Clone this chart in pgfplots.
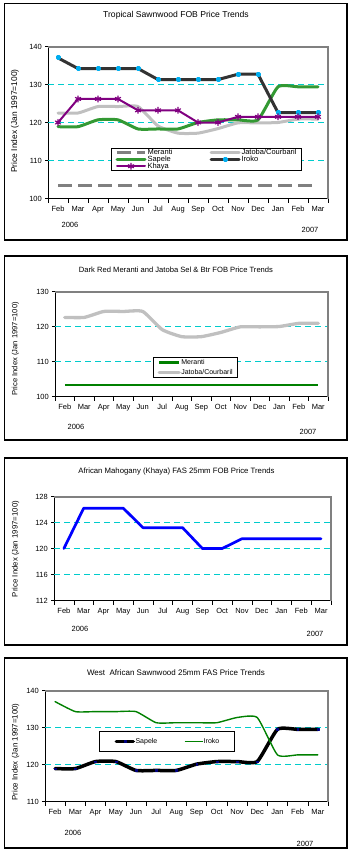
\documentclass[border=0pt]{standalone}
\usepackage{pgfplots}
\pgfplotsset{compat=1.18}
\usepackage{fontspec}
\setmainfont{Liberation Sans}
\definecolor{gridc}{RGB}{0,204,204}
\definecolor{meranti}{RGB}{128,128,128}
\definecolor{jatoba}{RGB}{192,192,192}
\definecolor{sapele}{RGB}{51,153,51}
\definecolor{iroko}{RGB}{51,51,51}
\definecolor{khaya}{RGB}{128,0,128}
\definecolor{dkgreen}{RGB}{0,128,0}
\definecolor{borderg}{RGB}{128,128,128}
\newcommand\fs[1]{\fontsize{#1}{#1}\selectfont}

\pgfplotsset{
  chartbase/.style={
    scale only axis,
    xmin=-0.5, xmax=13.5,
    xtick={0,...,13},
    xticklabels={Feb,Mar,Apr,May,Jun,Jul,Aug,Sep,Oct,Nov,Dec,Jan,Feb,Mar},
    minor xtick={-0.5,0.5,...,13.5},
    tick align=outside,
    axis x line*=bottom, axis y line*=left,
    axis line style={black, line width=0.6pt, -},
    major tick length=3pt, minor tick length=4pt,
    major x tick style={draw=none},
    minor x tick style={black, line width=0.5pt},
    ytick style={black, line width=0.5pt},
    extra y tick style={grid=major, major tick length=0pt, yticklabel={},
      major grid style={draw=gridc, solid, dash pattern=on 6pt off 4pt, line width=1pt}},
    /pgf/number format/assume math mode=true,
    xticklabel style={anchor=base, inner sep=0pt, yshift=-9.7pt},
    yticklabel style={anchor=east, inner sep=0pt, xshift=-3pt},
    tick label style={font=\fs{7.5}},
    clip=false,
    every axis plot/.append style={line join=round, line cap=round},
    legend cell align=left,
  },
}

\begin{document}
\begin{tikzpicture}
\path[use as bounding box] (0,0) rectangle (351pt,-852pt);
% frames
\draw[black, line width=1.6pt] (4.5pt,-3.5pt) rectangle (347pt,-240pt);
\draw[black, line width=1.6pt] (4.5pt,-256pt) rectangle (347pt,-440pt);
\draw[black, line width=1.6pt] (4.5pt,-458pt) rectangle (347pt,-645pt);
\draw[black, line width=1.6pt] (4.5pt,-658pt) rectangle (347pt,-848pt);

% ---------------- Panel 1 ----------------
\node[font=\fs{8.6}] at (176pt,-15pt) {Tropical Sawnwood FOB Price Trends};
\node[font=\fs{8.4}, rotate=90] at (15pt,-121pt) {Price Index (Jan 1997=100)};
\node[font=\fs{7.5}] at (70pt,-225pt) {2006};
\node[font=\fs{7.5}] at (310pt,-230pt) {2007};
\begin{axis}[chartbase, at={(48pt,-198.5pt)}, anchor=south west,
  width=280pt, height=152pt,
  ymin=100, ymax=140, ytick={100,110,...,140}, extra y ticks={110,120,130},
  legend columns=2,
  legend image code/.code={\draw[mark repeat=2,mark phase=2,#1] plot coordinates {(0pt,0pt) (14pt,0pt) (28pt,0pt)};},
  legend style={at={(rel axis cs:0.225,0.333)}, anchor=north west, draw=black, line width=1pt,
    font=\fs{7.5}, inner xsep=4pt, inner ysep=1pt, row sep=0.3pt,
    nodes={inner xsep=1pt, inner ysep=0pt, text height=5.3pt, text depth=1.2pt},
    /tikz/column 2/.style={column sep=36pt}},
]
\draw[borderg, line width=2pt] (rel axis cs:0,1) -- (rel axis cs:1,1) -- (rel axis cs:1,0);
\addplot[meranti, line width=3pt, line cap=butt, dash pattern=on 14pt off 6pt] coordinates {
(0,103.4) (1,103.4) (2,103.4) (3,103.4) (4,103.4) (5,103.4) (6,103.4) (7,103.4) (8,103.4) (9,103.4) (10,103.4) (11,103.4) (12,103.4) (13,103.4)};
\addlegendentry{Meranti}
\addplot[jatoba, line width=3pt, smooth, tension=0.3] coordinates {
(0,122.5) (1,122.5) (2,124.2) (3,124.2) (4,124.2) (5,119.1) (6,117.2) (7,117.2) (8,118.4) (9,119.9) (10,119.9) (11,120.0) (12,120.9) (13,120.9)};
\addlegendentry{Jatoba/Courbaril}
\addplot[sapele, line width=3pt, smooth, tension=0.3] coordinates {
(0,118.9) (1,118.9) (2,120.7) (3,120.7) (4,118.3) (5,118.3) (6,118.3) (7,120.0) (8,120.7) (9,120.7) (10,120.7) (11,129.4) (12,129.4) (13,129.4)};
\addlegendentry{Sapele}
\addplot[iroko, line width=3pt, mark=square*, mark size=1pt, mark options={cyan, draw=cyan}] coordinates {
(0,137.0) (1,134.2) (2,134.2) (3,134.2) (4,134.2) (5,131.3) (6,131.3) (7,131.3) (8,131.3) (9,132.7) (10,132.7) (11,122.6) (12,122.6) (13,122.6)};
\addlegendentry{Iroko}
\addplot[khaya, line width=2pt, mark=asterisk, mark size=3pt, mark options={line width=1.2pt}] coordinates {
(0,120.0) (1,126.2) (2,126.2) (3,126.2) (4,123.2) (5,123.2) (6,123.2) (7,120.0) (8,120.0) (9,121.5) (10,121.5) (11,121.5) (12,121.5) (13,121.5)};
\addlegendentry{Khaya}
\end{axis}

% ---------------- Panel 2 ----------------
\node[font=\fs{7.6}] at (176pt,-270pt) {Dark Red Meranti and Jatoba Sel \& Btr FOB Price Trends};
\node[font=\fs{7.6}, rotate=90] at (15.5pt,-349pt) {Price Index (Jan 1997=100)};
\node[font=\fs{7.5}] at (76pt,-427pt) {2006};
\node[font=\fs{7.5}] at (308pt,-432pt) {2007};
\begin{axis}[chartbase, at={(55pt,-396.5pt)}, anchor=south west,
  width=273pt, height=105pt,
  ymin=100, ymax=130, ytick={100,110,...,130}, extra y ticks={110,120},
  legend image code/.code={\draw[#1] plot coordinates {(0pt,0pt) (10pt,0pt) (20pt,0pt)};},
  legend style={at={(rel axis cs:0.359,0.375)}, anchor=north west, draw=black, line width=1pt,
    font=\fs{7}, inner xsep=4pt, inner ysep=1.5pt, row sep=3.5pt,
    nodes={inner xsep=0.5pt, inner ysep=0pt, text height=5.2pt, text depth=1.3pt}},
]
\draw[borderg, line width=2pt] (rel axis cs:0,1) -- (rel axis cs:1,1) -- (rel axis cs:1,0);
\addplot[dkgreen, line width=2.3pt, line cap=butt] coordinates {
(0,103.3) (1,103.3) (2,103.3) (3,103.3) (4,103.3) (5,103.3) (6,103.3) (7,103.3) (8,103.3) (9,103.3) (10,103.3) (11,103.3) (12,103.3) (13,103.3)};
\addlegendentry{Meranti}
\addplot[jatoba, line width=3.3pt, smooth, tension=0.3] coordinates {
(0,122.6) (1,122.6) (2,124.3) (3,124.3) (4,124.3) (5,119.1) (6,117.1) (7,117.1) (8,118.3) (9,119.9) (10,119.9) (11,120.0) (12,120.9) (13,120.9)};
\addlegendentry{Jatoba/Courbaril}
\end{axis}

% ---------------- Panel 3 ----------------
\node[font=\fs{7.75}] at (176.5pt,-471pt) {African Mahogany (Khaya) FAS 25mm FOB Price Trends};
\node[font=\fs{7.8}, rotate=90] at (15.5pt,-549pt) {Price Index (Jan 1997=100)};
\node[font=\fs{7.5}] at (80pt,-629pt) {2006};
\node[font=\fs{7.5}] at (315pt,-634pt) {2007};
\begin{axis}[chartbase, at={(54pt,-600.5pt)}, anchor=south west,
  width=277pt, height=104pt,
  ymin=112, ymax=128, ytick={112,116,...,128}, extra y ticks={116,120,124},
]
\draw[borderg, line width=2pt] (rel axis cs:0,1) -- (rel axis cs:1,1) -- (rel axis cs:1,0);
\addplot[blue, line width=2.7pt] coordinates {
(0,120.0) (1,126.2) (2,126.2) (3,126.2) (4,123.2) (5,123.2) (6,123.2) (7,120.0) (8,120.0) (9,121.5) (10,121.5) (11,121.5) (12,121.5) (13,121.5)};
\end{axis}

% ---------------- Panel 4 ----------------
\node[font=\fs{8}] at (176pt,-673pt) {West\ \ African Sawnwood 25mm FAS Price Trends};
\node[font=\fs{7.9}, rotate=90] at (15.5pt,-752pt) {Price Index (Jan 1997=100)};
\node[font=\fs{7.5}] at (73pt,-833pt) {2006};
\node[font=\fs{7.5}] at (305pt,-844pt) {2007};
\begin{axis}[chartbase, at={(45pt,-801.5pt)}, anchor=south west,
  width=283pt, height=111pt,
  ymin=110, ymax=140, ytick={110,120,...,140}, extra y ticks={120,130},
  legend columns=2,
  legend image code/.code={\draw[mark repeat=2,mark phase=2,#1] plot coordinates {(0pt,0pt) (8.5pt,0pt) (17pt,0pt)};},
  legend style={at={(rel axis cs:0.191,0.636)}, anchor=north west, draw=black, line width=1pt,
    font=\fs{7}, inner xsep=15pt, inner ysep=6.7pt,
    nodes={inner xsep=0.5pt, inner ysep=0pt, text height=5.2pt, text depth=1.3pt},
    /tikz/column 2/.style={column sep=27pt}},
]
\draw[borderg, line width=2pt] (rel axis cs:0,1) -- (rel axis cs:1,1) -- (rel axis cs:1,0);
\addplot[black, line width=3.5pt, smooth, tension=0.3, mark=square*, mark size=0.9pt, mark options={fill={rgb,255:red,0;green,0;blue,128}, draw={rgb,255:red,0;green,0;blue,128}, line width=0.3pt}] coordinates {
(0,118.9) (1,118.9) (2,120.8) (3,120.8) (4,118.4) (5,118.4) (6,118.4) (7,120.1) (8,120.8) (9,120.8) (10,120.8) (11,129.5) (12,129.5) (13,129.5)};
\addlegendentry{Sapele}
\addplot[dkgreen, line width=1.4pt, smooth, tension=0.3] coordinates {
(0,137.0) (1,134.3) (2,134.3) (3,134.3) (4,134.3) (5,131.3) (6,131.3) (7,131.3) (8,131.3) (9,132.7) (10,132.7) (11,122.6) (12,122.6) (13,122.6)};
\addlegendentry{Iroko}
\end{axis}
\end{tikzpicture}
\end{document}
